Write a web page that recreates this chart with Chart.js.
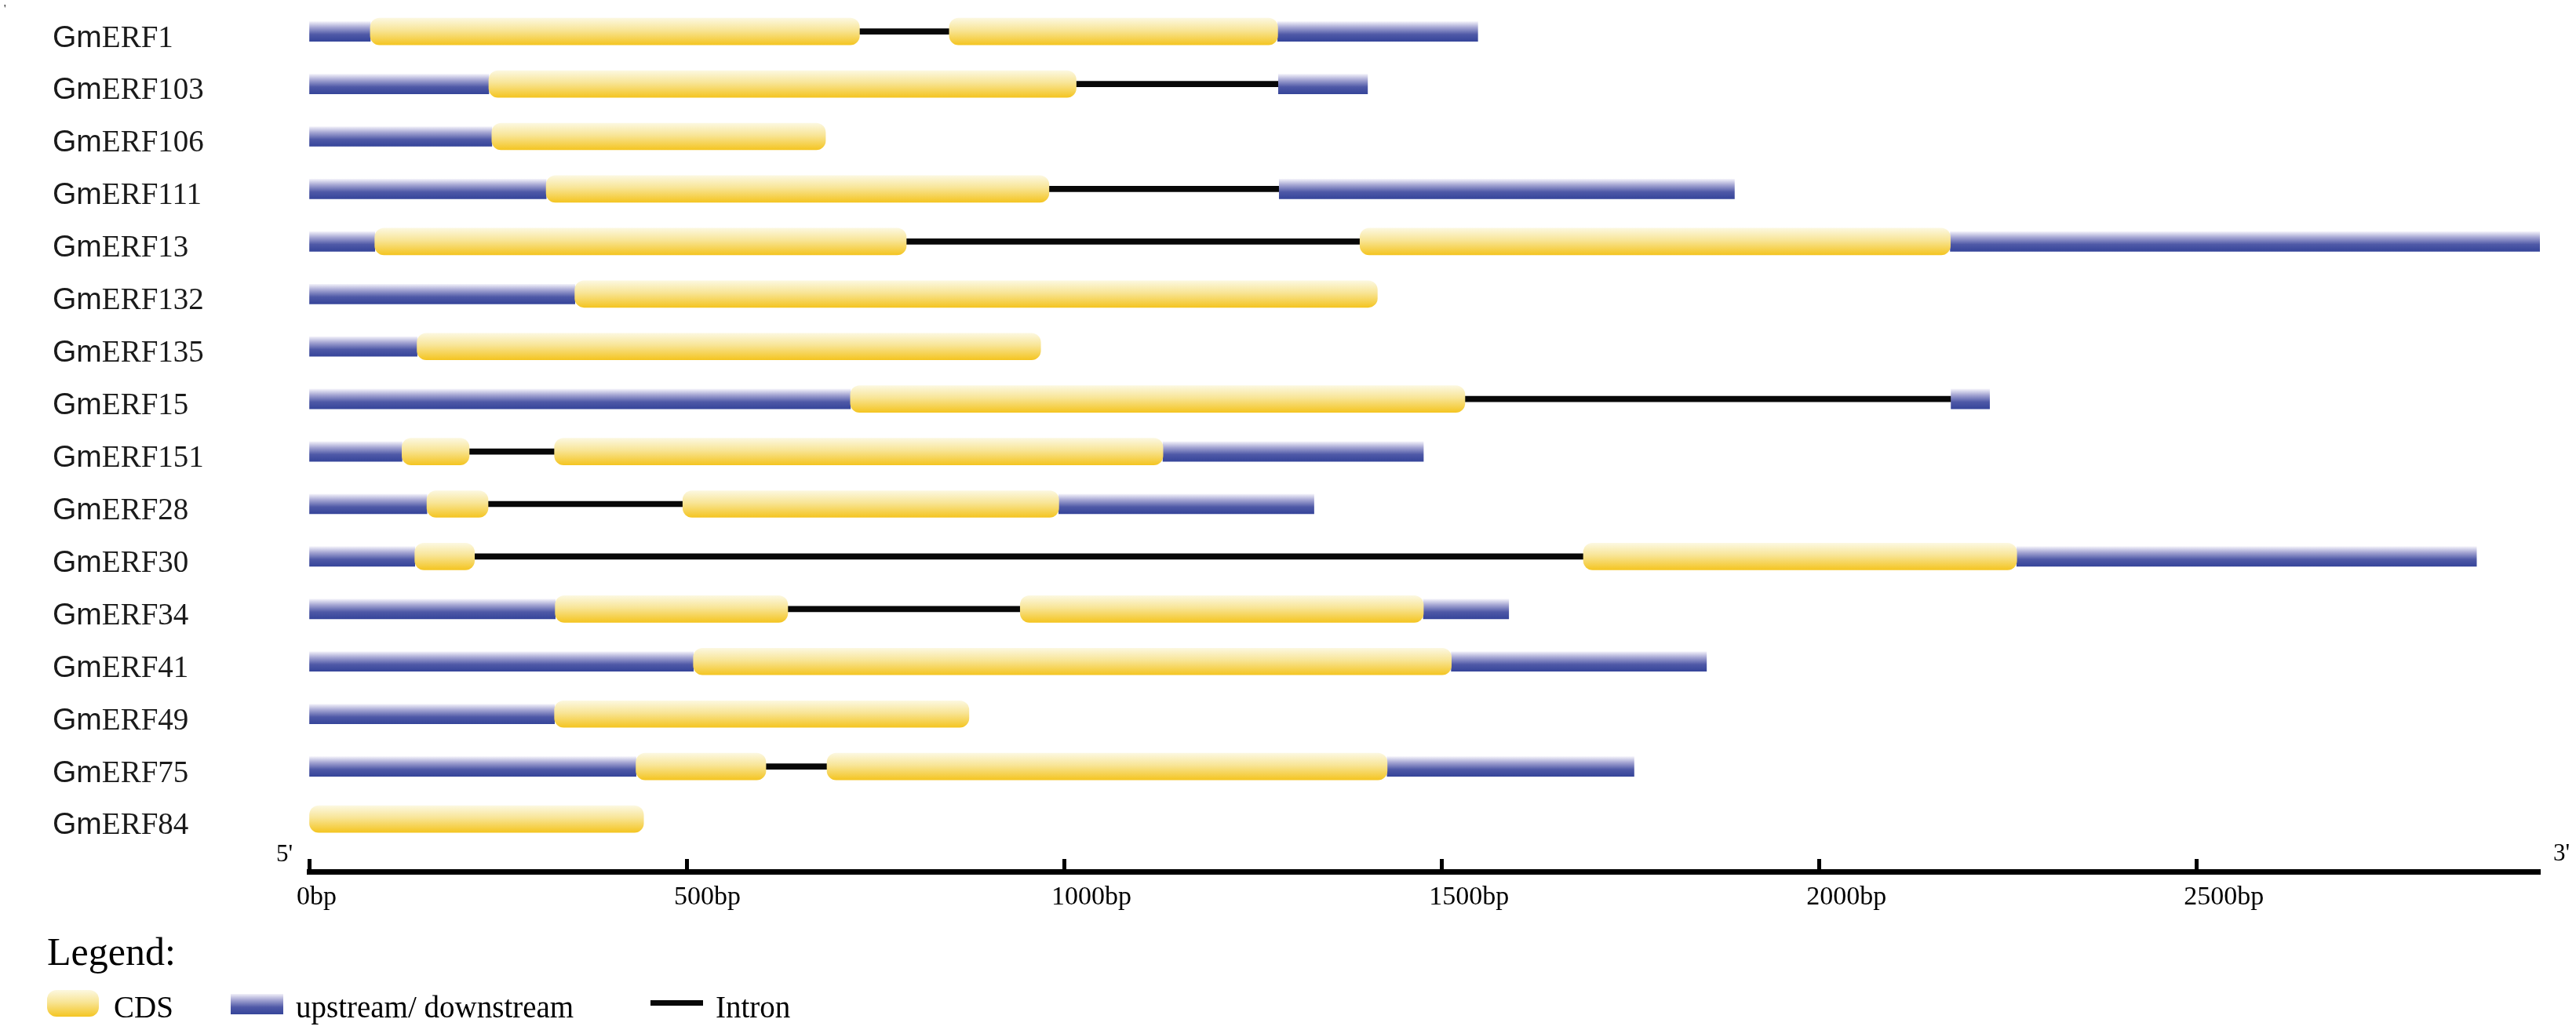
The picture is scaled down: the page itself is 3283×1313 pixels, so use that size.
<!DOCTYPE html>
<html>
<head>
<meta charset="utf-8">
<title>GmERF gene structure</title>
<script src="https://cdn.jsdelivr.net/npm/chart.js@4.4.1/dist/chart.umd.min.js"></script>
<style>
  html, body { margin: 0; padding: 0; background: #fff; }
  #wrap { width: 3283px; height: 1313px; position: relative; }
</style>
</head>
<body>
<div id="wrap"><canvas id="geneChart"></canvas></div>
<script>
// gene names, top to bottom
const genes = ["GmERF1", "GmERF103", "GmERF106", "GmERF111", "GmERF13", "GmERF132", "GmERF135", "GmERF15",
               "GmERF151", "GmERF28", "GmERF30", "GmERF34", "GmERF41", "GmERF49", "GmERF75", "GmERF84"];

// segments in bp, [start, end], null where the gene has none
const upstream = [[0, 81], [0, 238], [0, 242], [0, 314], [0, 87], [0, 352], [0, 143], [0, 717],
                  [0, 123], [0, 156], [0, 140], [0, 326], [0, 509], [0, 325], [0, 433], null];
const cds1 = [[81, 729], [238, 1016], [242, 684], [314, 980], [87, 791], [352, 1415], [143, 969], [717, 1531],
              [123, 212], [156, 237], [140, 219], [326, 634], [509, 1513], [325, 874], [433, 605], [0, 443]];
const intron = [[729, 848], [1016, 1284], null, [980, 1285], [791, 1392], null, null, [1531, 2175],
                [212, 325], [237, 495], [219, 1688], [634, 942], null, null, [605, 686], null];
const cds2 = [[848, 1283], null, null, null, [1392, 2174], null, null, null,
              [325, 1131], [495, 993], [1688, 2262], [942, 1476], null, null, [686, 1428], null];
const downstream = [[1283, 1548], [1284, 1402], null, [1285, 1888], [2174, 2955], null, null, [2175, 2226],
                    [1131, 1476], [993, 1331], [2262, 2871], [1476, 1589], [1513, 1851], null, [1428, 1755], null];

const xTicks = [0, 500, 1000, 1500, 2000, 2500];
const axisMax = 2955;

const serif = "'Liberation Serif', 'Times New Roman', serif";
const sans = "'Liberation Sans', Arial, sans-serif";

const blueStops = [[0, "#f1f0f9"], [0.3, "#a3a4d2"], [0.65, "#4f59a7"], [1, "#36459a"]];
const yellowStops = [[0, "#fcf8e0"], [0.45, "#f8e597"], [1, "#f4c522"]];

function makeGradient(ctx, top, bottom, stops) {
    const g = ctx.createLinearGradient(0, top, 0, bottom);
    stops.forEach(s => g.addColorStop(s[0], s[1]));
    return g;
}

// gradient per bar, placed on the bar's row
function barFill(stops, thickness, fallback) {
    return function (c) {
        const chart = c.chart;
        if (c.type !== "data" || !chart.chartArea) return fallback;
        const y = chart.scales.y.getPixelForValue(c.dataIndex);
        return makeGradient(chart.ctx, y - thickness / 2, y + thickness / 2, stops);
    };
}

const cdsStyle = { barThickness: 34, borderRadius: 12, borderSkipped: false, grouped: false, order: 1,
                   backgroundColor: barFill(yellowStops, 34, "#f7d54e") };
const utrStyle = { barThickness: 25, borderSkipped: false, grouped: false, order: 2,
                   backgroundColor: barFill(blueStops, 25, "#4b55a5") };
const intronStyle = { barThickness: 7, borderSkipped: false, grouped: false, order: 3, backgroundColor: "#080808" };

// gene labels, 5'/3' marks and legend
const annotations = {
    id: "annotations",
    afterDraw(chart) {
        const ctx = chart.ctx;
        const x = chart.scales.x, y = chart.scales.y;
        ctx.save();
        ctx.textBaseline = "alphabetic";
        ctx.textAlign = "left";

        ctx.fillStyle = "#1a1a1a";
        genes.forEach((name, i) => {
            const base = y.getPixelForValue(i) + 19.4;
            ctx.font = "39px " + sans;
            ctx.fillText(name.slice(0, 2), 67, base);
            const w = ctx.measureText(name.slice(0, 2)).width;
            ctx.font = "39px " + serif;
            ctx.fillText(name.slice(2), 67 + w, base);
        });

        ctx.fillStyle = "#000";
        ctx.font = "14px " + serif;
        ctx.fillText("'", 5, 16);

        ctx.font = "31px " + serif;
        ctx.fillText("5'", x.left - 42, x.top - 13);
        ctx.fillText("3'", x.right + 17, x.top - 14);

        // legend
        ctx.font = "50px " + serif;
        ctx.fillText("Legend:", 60, 1230);

        ctx.fillStyle = makeGradient(ctx, 1262, 1296, yellowStops);
        ctx.beginPath();
        ctx.roundRect(60, 1262, 66, 34, 12);
        ctx.fill();

        ctx.fillStyle = makeGradient(ctx, 1267, 1293, blueStops);
        ctx.fillRect(294, 1267, 67, 26);

        ctx.fillStyle = "#080808";
        ctx.fillRect(829, 1275, 67, 7);

        ctx.fillStyle = "#000";
        ctx.font = "39px " + serif;
        ctx.fillText("CDS", 145, 1297);
        ctx.fillText("upstream/ downstream", 377, 1297);
        ctx.fillText("Intron", 912, 1297);
        ctx.restore();
    }
};

new Chart(document.getElementById("geneChart").getContext("2d"), {
    type: "bar",
    data: {
        labels: genes.map((g, i) => i),
        datasets: [
            Object.assign({ label: "CDS", data: cds1 }, cdsStyle),
            Object.assign({ label: "CDS", data: cds2 }, cdsStyle),
            Object.assign({ label: "upstream/ downstream", data: upstream }, utrStyle),
            Object.assign({ label: "upstream/ downstream", data: downstream }, utrStyle),
            Object.assign({ label: "Intron", data: intron }, intronStyle)
        ]
    },
    options: {
        indexAxis: "y",
        responsive: true,
        maintainAspectRatio: false,
        animation: false,
        layout: { padding: { left: 394, right: 46, top: 0, bottom: 152 } },
        plugins: { legend: { display: false }, tooltip: { enabled: false } },
        scales: {
            x: {
                type: "linear",
                position: "bottom",
                min: 0,
                max: axisMax,
                afterBuildTicks: s => { s.ticks = xTicks.map(v => ({ value: v })); },
                afterFit: s => { s.height = 50; },
                border: { display: true, width: 7, color: "#000" },
                grid: { drawOnChartArea: false, drawTicks: true, tickLength: -16, tickWidth: 5, tickColor: "#000" },
                ticks: {
                    callback: v => v + "bp",
                    align: "start",
                    labelOffset: -16,
                    padding: 29,
                    color: "#000",
                    maxRotation: 0,
                    autoSkip: false,
                    font: { family: serif, size: 34 }
                }
            },
            y: {
                type: "linear",
                reverse: true,
                offset: false,
                min: -0.6,
                max: 16,
                display: false,
                grid: { offset: false }
            }
        }
    },
    plugins: [annotations]
});
</script>
</body>
</html>
